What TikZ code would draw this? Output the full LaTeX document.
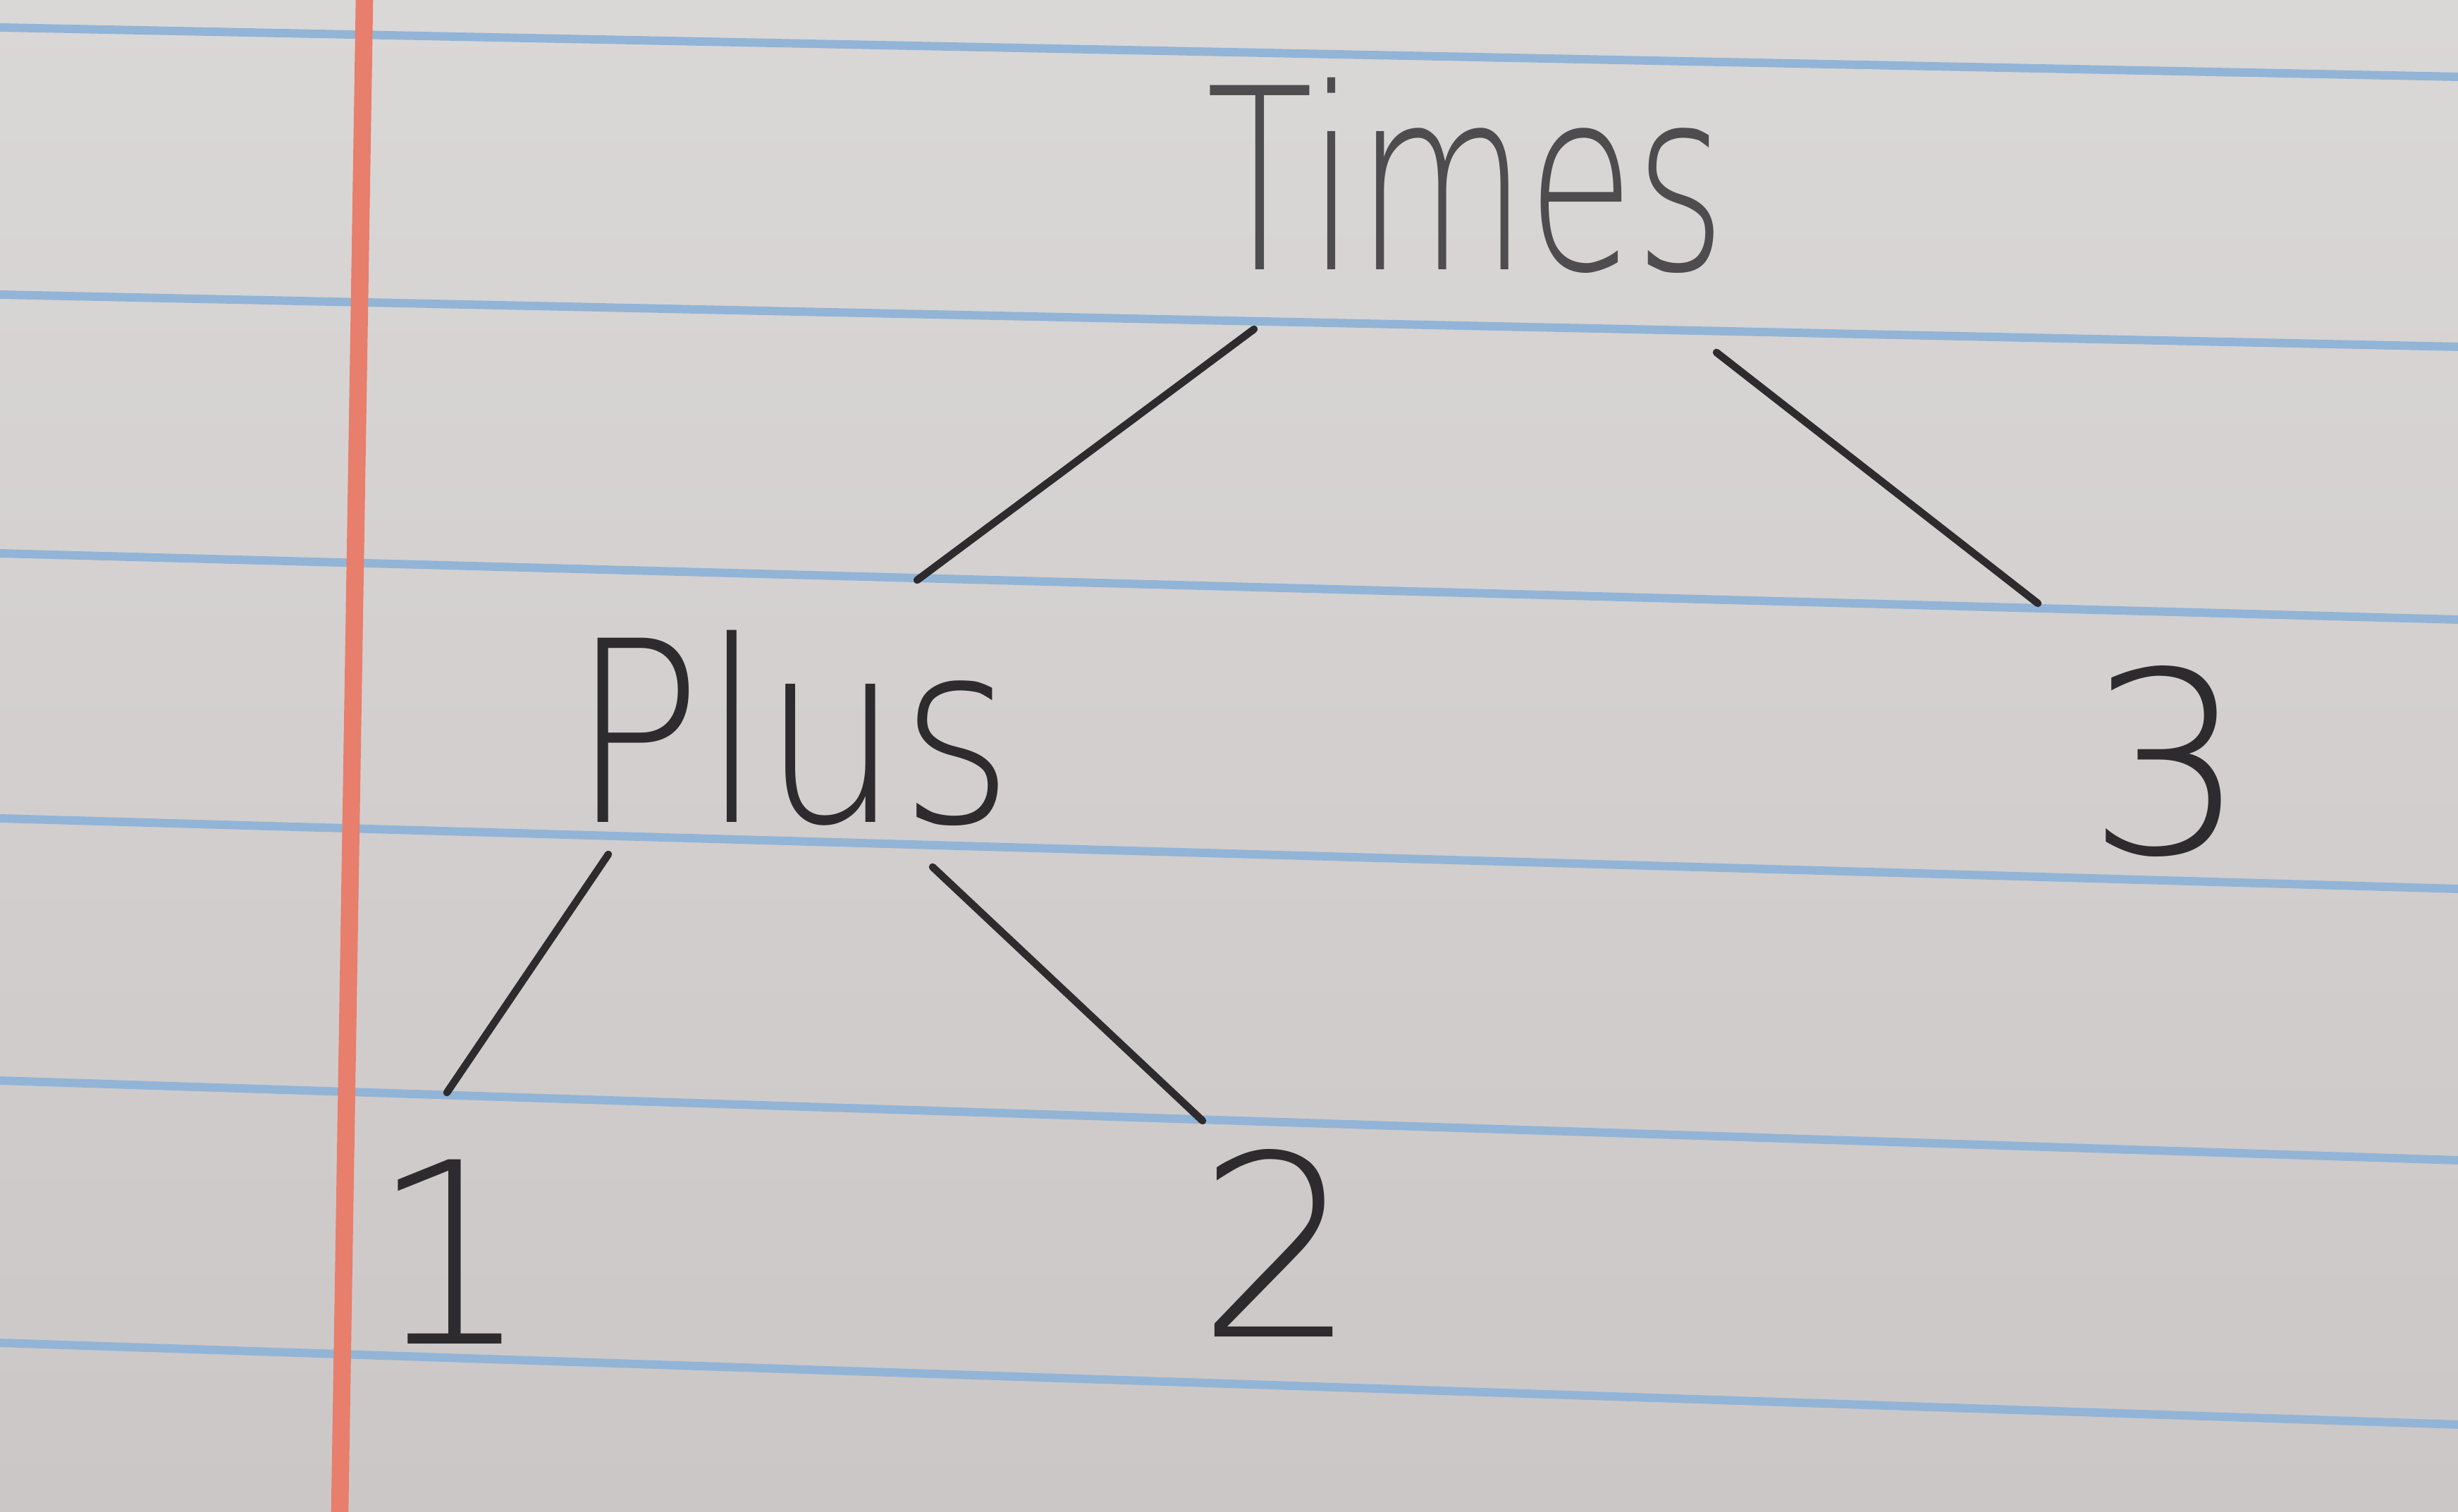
\documentclass[tikz,border=0pt]{standalone}
\usepackage{fontspec}
\newfontfamily\handfont{DejaVu Sans ExtraLight}
\definecolor{paper}{RGB}{218,215,215}
\definecolor{paperdark}{RGB}{204,199,199}
\definecolor{ruleblue}{RGB}{146,180,214}
\definecolor{marginred}{RGB}{232,126,108}
\definecolor{ink}{RGB}{45,43,45}
\definecolor{pencil}{RGB}{78,76,78}
\tikzset{
  word/.style={font=\handfont\fontsize{102}{102}\selectfont, text=ink, inner sep=0pt, anchor=base, xscale=.68, transform shape},
  digit/.style={font=\handfont\fontsize{102}{102}\selectfont, text=ink, inner sep=0pt, anchor=base},
  branch/.style={draw=ink, line width=3pt, line cap=round}
}
\begin{document}
\begin{tikzpicture}
  \useasboundingbox (0,0) rectangle (34.87,21.45);

  % Lined paper
  \shade[top color=paper, bottom color=paperdark] (0,0) rectangle (34.87,21.45);
  \foreach \l/\r in {21.06/20.36, 17.27/16.53, 13.60/12.66, 9.84/8.84, 6.12/4.99, 2.40/1.24}
    \draw[ruleblue, line width=3.4pt] (0,\l) -- (34.87,\r);
  \draw[marginred, line width=7pt] (5.17,21.45) -- (4.82,0);

  % Tree nodes
  \node[word, text=pencil, xscale=1.02] (times) at (20.80,17.62) {Times};
  \node[word, xscale=1.265] (plus) at (11.24,9.78) {Plus};
  \node[digit] (three) at (30.75,9.34) {3};
  \node[digit] (one) at (6.40,2.38) {1};
  \node[digit] (two) at (18.13,2.48) {2};

  % Branches
  \draw[branch] ([shift={(-3.01,-.84)}]times.base) -- ([shift={(1.77,3.44)}]plus.base);
  \draw[branch] ([shift={(3.55,-1.17)}]times.base) -- ([shift={(-1.84,3.55)}]three.base);
  \draw[branch] ([shift={(-2.61,-.45)}]plus.base) -- ([shift={(-.06,3.57)}]one.base);
  \draw[branch] ([shift={(1.99,-.63)}]plus.base) -- ([shift={(-1.07,3.07)}]two.base);
\end{tikzpicture}
\end{document}
